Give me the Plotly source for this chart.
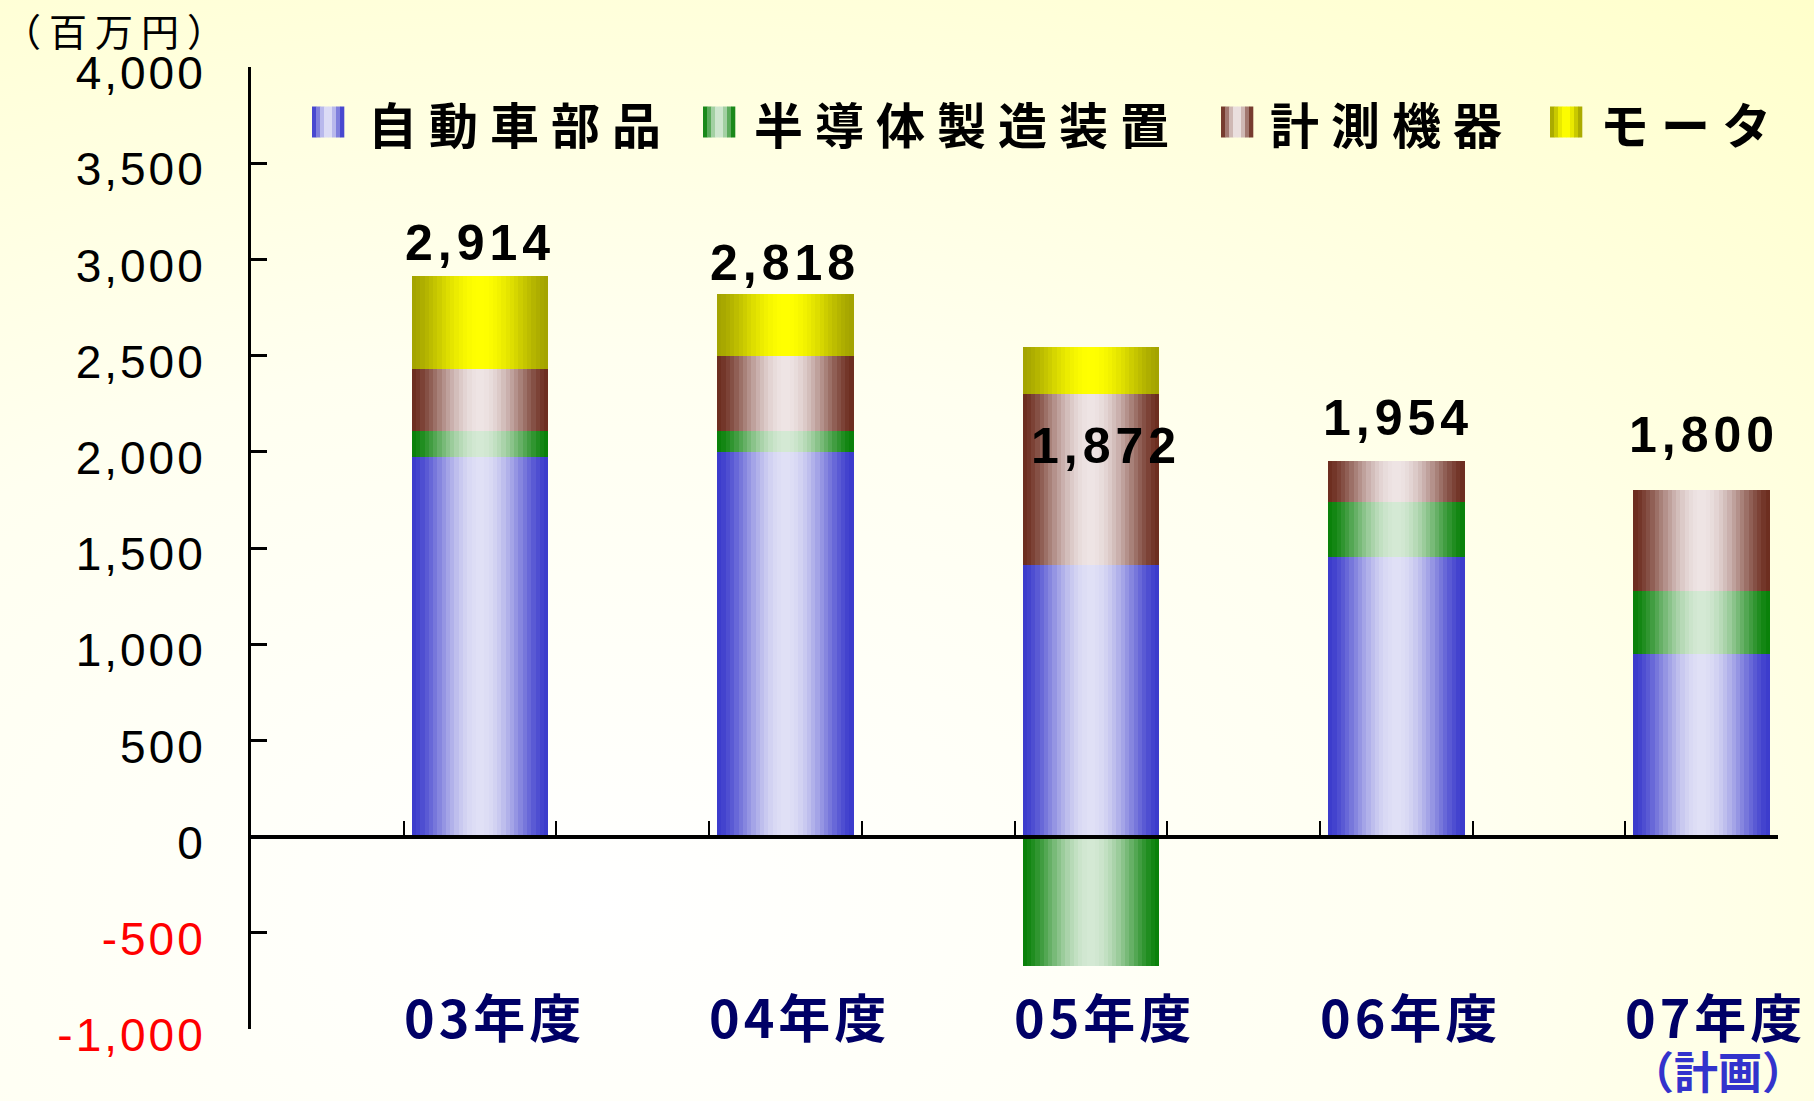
import base64
import numpy as np
import plotly.graph_objects as go

# ---------------- data ----------------
categories = ["03年度", "04年度", "05年度", "06年度", "07年度"]
series_names = ["自動車部品", "半導体製造装置", "計測機器", "モータ"]
auto_parts = [1972, 2000, 1410, 1453, 950]
semiconductor_equipment = [136, 108, -675, 286, 326]
measuring_instruments = [322, 391, 892, 215, 524]
motors = [484, 319, 245, 0, 0]
y_tick_values = [-1000, -500, 0, 500, 1000, 1500, 2000, 2500, 3000, 3500, 4000]
y_tick_labels = ["-1,000", "-500", "0", "500", "1,000", "1,500", "2,000",
                 "2,500", "3,000", "3,500", "4,000"]
unit_label = "（百万円）"
plan_note = "（計画）"

series_values = [auto_parts, semiconductor_equipment, measuring_instruments, motors]

# ---------------- styling / layout constants ----------------
FIG_W, FIG_H = 1814, 1101
L, R, T, B = 251, 36, 67, 72
PW, PH = FIG_W - L - R, FIG_H - T - B
Y_MIN, Y_MAX = -1000, 4000
X_MIN, X_MAX = 0, 10

# (dark edge colour, light centre colour)
palettes = [
    ((58, 58, 204), (224, 224, 246)),
    ((8, 128, 8), (212, 233, 212)),
    ((108, 44, 30), (238, 228, 228)),
    ((163, 163, 0), (255, 255, 0)),
]

JP = "Noto Sans CJK JP"
N_STRIPS = 32
BAR_W = 0.894
# hand placement of the total labels (pixel nudges, as in the original slide)
total_label_xshift = [0, 0, 15, 2, 2]
total_label_yshift = [3, 1, 0, 13, 25]


def px_x(px):
    return (px - L) / PW


def px_y(py):
    return (FIG_H - B - py) / PH


def shade(pal, t):
    dark, light = pal
    f = np.sin(np.pi * t) ** 1.5
    c = [int(round(d + (l - d) * f)) for d, l in zip(dark, light)]
    return f"rgb({c[0]},{c[1]},{c[2]})"


x_centers = [2 * i + 1.5 for i in range(len(categories))]

fig = go.Figure()

# stacked bars, each segment drawn as a set of vertical strips (cylinder shading)
pos_cum = [0.0] * len(categories)
neg_cum = [0.0] * len(categories)
for s, vals in enumerate(series_values):
    bases = []
    for i, v in enumerate(vals):
        if v >= 0:
            bases.append(pos_cum[i])
            pos_cum[i] += v
        else:
            bases.append(neg_cum[i])
            neg_cum[i] += v
    for k in range(N_STRIPS):
        t = (k + 0.5) / N_STRIPS
        xs, ws = [], []
        for xc in x_centers:
            left_k = xc - BAR_W / 2 + k * BAR_W / N_STRIPS
            right = xc + BAR_W / 2
            xs.append((left_k + right) / 2)
            ws.append(right - left_k)
        fig.add_trace(go.Bar(
            x=xs, y=vals, base=bases, width=ws,
            marker=dict(color=shade(palettes[s], t), line=dict(width=0)),
            name=series_names[s], showlegend=False, hoverinfo="skip",
        ))

totals = [sum(v[i] for v in series_values) for i in range(len(categories))]

annotations = []
# total labels
for i, (xc, tot) in enumerate(zip(x_centers, totals)):
    annotations.append(dict(
        x=xc, y=tot, xref="x", yref="y", xanchor="center", yanchor="bottom",
        text=f'<span style="letter-spacing:5px">{tot:,}</span>', showarrow=False,
        xshift=total_label_xshift[i], yshift=total_label_yshift[i],
        font=dict(family="Liberation Sans", size=50, color="black", weight="bold"),
    ))
# category labels
for xc, cat in zip(x_centers, categories):
    annotations.append(dict(
        x=xc, y=Y_MIN, xref="x", yref="y", xanchor="center", yanchor="middle",
        text=f'<span style="letter-spacing:4px">{cat}</span>', showarrow=False, xshift=14, yshift=14,
        font=dict(family=JP, size=52, color="#000066", weight="bold"),
    ))
# plan note
annotations.append(dict(
    x=x_centers[-1], y=px_y(1070), xref="x", yref="paper", xanchor="center", yanchor="middle",
    text=plan_note, showarrow=False, xshift=16,
    font=dict(family=JP, size=44, color="#3333cc", weight="bold"),
))
# unit label
annotations.append(dict(
    x=px_x(1), y=px_y(30), xref="paper", yref="paper", xanchor="left", yanchor="middle",
    text=f'<span style="letter-spacing:8px">{unit_label}</span>', showarrow=False,
    font=dict(family=JP, size=38, color="black"),
))

# manual legend (large striped swatches)
legend_swatch_x = [312, 703, 1221, 1550]
legend_text_x = [366, 752, 1268, 1598]
legend_y = 122
SW_W, SW_H, SW_N = 32, 31, 8
shapes = []
for s, name in enumerate(series_names):
    for k in range(SW_N):
        t = (k + 0.5) / SW_N
        x0 = legend_swatch_x[s] + k * SW_W / SW_N
        shapes.append(dict(
            type="rect", xref="paper", yref="paper",
            x0=px_x(x0), x1=px_x(x0 + SW_W / SW_N + 0.3),
            y0=px_y(legend_y - SW_H / 2), y1=px_y(legend_y + SW_H / 2),
            fillcolor=shade(palettes[s], t), line=dict(width=0), layer="above",
        ))
    annotations.append(dict(
        x=px_x(legend_text_x[s]), y=px_y(legend_y), xref="paper", yref="paper",
        xanchor="left", yanchor="middle", showarrow=False,
        text=f'<span style="letter-spacing:12px">{name}</span>',
        font=dict(family=JP, size=49, color="black", weight="bold"),
    ))

# y tick text (negative values in red)
tick_text = []
for v, lab in zip(y_tick_values, y_tick_labels):
    col = "#ff0000" if v < 0 else "#000000"
    tick_text.append(f'<span style="color:{col};letter-spacing:3px">{lab}</span>')

# background gradient
svg = (
    "<svg xmlns='http://www.w3.org/2000/svg' width='1814' height='1101' preserveAspectRatio='none'>"
    "<defs><radialGradient id='g' cx='0.33' cy='0.82' r='1.1' gradientUnits='objectBoundingBox'>"
    "<stop offset='0' stop-color='#ffffff'/><stop offset='0.45' stop-color='#fffff0'/>"
    "<stop offset='1' stop-color='#ffffc8'/></radialGradient></defs>"
    "<rect width='100%' height='100%' fill='url(#g)'/></svg>"
)
bg_src = "data:image/svg+xml;base64," + base64.b64encode(svg.encode()).decode()

fig.update_layout(
    width=FIG_W, height=FIG_H,
    margin=dict(l=L, r=R, t=T, b=B, pad=0),
    barmode="overlay",
    bargap=0,
    paper_bgcolor="#ffffff",
    plot_bgcolor="rgba(0,0,0,0)",
    showlegend=False,
    annotations=annotations,
    shapes=shapes,
    images=[dict(
        source=bg_src, xref="paper", yref="paper",
        x=px_x(0), y=px_y(0), sizex=FIG_W / PW, sizey=FIG_H / PH,
        xanchor="left", yanchor="top", sizing="stretch", layer="below",
    )],
    xaxis=dict(
        range=[X_MIN, X_MAX], showgrid=False, zeroline=False,
        showline=True, linecolor="black", linewidth=4,
        anchor="free", position=(0 - Y_MIN) / (Y_MAX - Y_MIN),
        ticks="inside", ticklen=14, tickwidth=2, tickcolor="black",
        tickvals=list(range(1, 11)), showticklabels=False,
    ),
    yaxis=dict(
        range=[Y_MIN, Y_MAX], showgrid=False, zeroline=False,
        showline=True, linecolor="black", linewidth=3,
        ticks="inside", ticklen=16, tickwidth=3, tickcolor="black",
        tickvals=y_tick_values, ticktext=tick_text,
        tickfont=dict(family="Liberation Sans", size=46, color="black"),
        ticklabelstandoff=33, ticklabelshift=6,
    ),
)

fig.write_html(
    "out.html",
    config={"displayModeBar": False},
    post_script="document.body.style.margin='0';document.body.style.overflow='hidden';",
)
